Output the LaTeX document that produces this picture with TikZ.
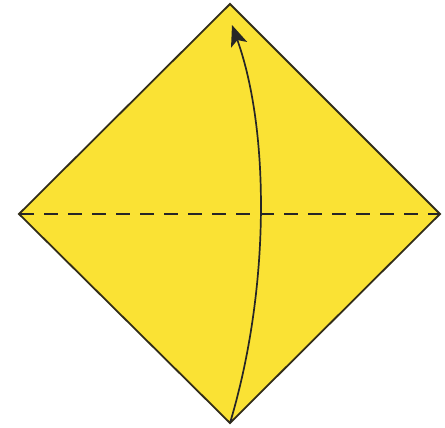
\documentclass[tikz,border=0pt]{standalone}
\usetikzlibrary{arrows.meta}
\definecolor{paper}{RGB}{250,226,52}
\definecolor{edge}{RGB}{50,45,25}
\tikzset{
  sheet/.style={fill=paper, draw=edge, line width=1.8pt, line join=miter},
  foldline/.style={draw=black!85, line width=1.8pt, dash pattern=on 14pt off 10pt},
  motion/.style={draw=black!85, line width=1.7pt, -{Stealth[length=21pt,width=17pt,inset=5pt]}}
}
\begin{document}
\begin{tikzpicture}[x=1pt,y=-1pt]
\useasboundingbox (0,0) rectangle (445,428);
\coordinate (T) at (230,4);
\coordinate (L) at (19,214);
\coordinate (R) at (440,214);
\coordinate (B) at (230,423);
\coordinate (tip) at (232,25);
\draw[sheet] (T) -- (R) -- (B) -- (L) -- cycle;
\draw[foldline] ([xshift=1pt]L) -- ([xshift=-1pt]R);
\draw[motion] (B) .. controls (270,290) and (270,131) .. (tip);
\end{tikzpicture}
\end{document}
